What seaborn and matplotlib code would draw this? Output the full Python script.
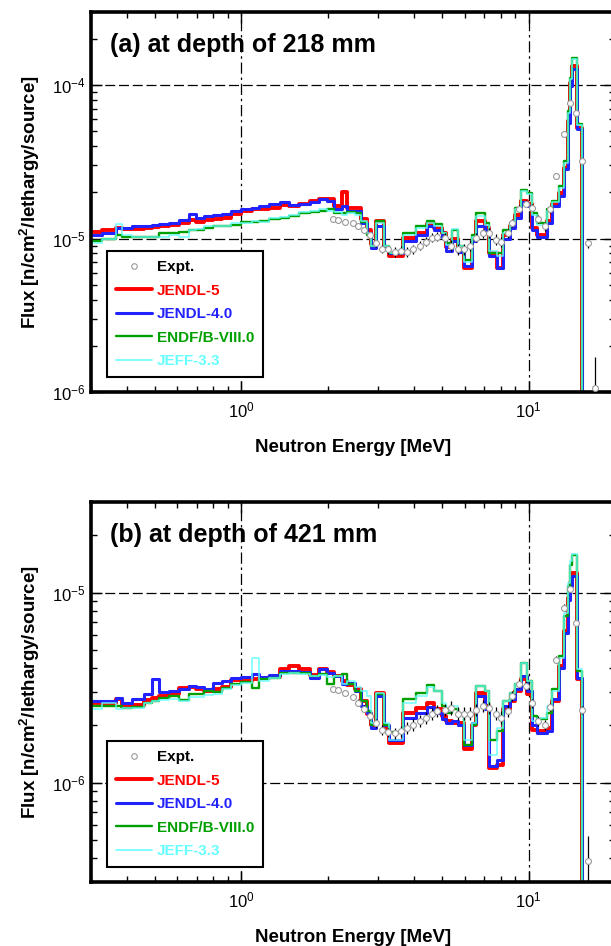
import pandas as pd
import seaborn as sns
import matplotlib
matplotlib.use('Agg')
from matplotlib import pyplot as plt
from matplotlib.lines import Line2D
from matplotlib.ticker import LogLocator, NullFormatter

# group boundaries [MeV], shared by all calculations
edges = [0.29, 0.328, 0.367, 0.385, 0.417, 0.459, 0.490, 0.518, 0.561, 0.608,
         0.659, 0.697, 0.743, 0.799, 0.859, 0.923, 1.00, 1.09, 1.155, 1.25,
         1.36, 1.47, 1.59, 1.73, 1.87, 1.99, 2.11, 2.25, 2.34, 2.48,
         2.62, 2.73, 2.84, 2.95, 3.15, 3.28, 3.67, 4.07, 4.45, 4.70,
         4.98, 5.18, 5.43, 5.70, 5.98, 6.38, 6.59, 7.03, 7.31, 7.74,
         8.18, 8.59, 8.94, 9.45, 9.84, 10.3, 10.7, 11.6, 12.1, 12.8,
         13.3, 13.7, 14.0, 14.2, 14.7, 15.4, 20.0]

# (a) depth 218 mm, flux in 1e-5
a_jendl5 = [1.11, 1.14, 1.18, 1.16, 1.16, 1.17, 1.19, 1.21, 1.23, 1.27,
            1.33, 1.29, 1.33, 1.35, 1.37, 1.45, 1.52, 1.55, 1.57, 1.59,
            1.66, 1.64, 1.69, 1.77, 1.82, 1.82, 1.62, 2.00, 1.59, 1.59,
            1.35, 1.13, 0.92, 1.31, 0.86, 0.775, 1.015, 1.09, 1.25, 1.18,
            1.08, 0.88, 1.00, 0.835, 0.647, 0.97, 1.31, 1.18, 0.80, 0.64,
            1.05, 1.20, 1.43, 1.77, 1.69, 1.18, 1.06, 1.31, 1.69, 1.99,
            2.9, 5.87, 10.4, 13.4, 5.28, 0.001]
a_jendl4 = [1.06, 1.09, 1.18, 1.18, 1.21, 1.21, 1.23, 1.25, 1.27, 1.33,
            1.45, 1.37, 1.41, 1.43, 1.45, 1.52, 1.57, 1.59, 1.62, 1.69,
            1.72, 1.66, 1.69, 1.72, 1.80, 1.77, 1.57, 1.64, 1.52, 1.52,
            1.27, 1.09, 0.87, 1.21, 0.86, 0.80, 0.97, 1.06, 1.20, 1.13,
            1.03, 0.83, 0.96, 0.82, 0.667, 0.97, 1.21, 1.13, 0.775, 0.64,
            1.00, 1.18, 1.37, 1.72, 1.64, 1.13, 1.03, 1.27, 1.62, 1.90,
            2.85, 5.7, 9.9, 12.8, 5.2, 0.001]
a_endf8 = [0.97, 1.00, 1.06, 1.02, 1.02, 1.02, 1.03, 1.08, 1.09, 1.11,
           1.13, 1.14, 1.18, 1.20, 1.21, 1.23, 1.29, 1.29, 1.31, 1.35,
           1.37, 1.41, 1.46, 1.48, 1.52, 1.57, 1.46, 1.46, 1.48, 1.46,
           1.29, 1.05, 0.90, 1.31, 0.89, 0.81, 1.08, 1.20, 1.31, 1.25,
           1.09, 0.94, 1.13, 0.90, 0.72, 1.05, 1.46, 1.27, 0.81, 0.80,
           1.13, 1.27, 1.59, 2.08, 1.99, 1.46, 1.27, 1.57, 1.77, 2.2,
           3.2, 6.8, 11.2, 15.1, 5.6, 0.001]
a_jeff33 = [0.94, 1.00, 1.25, 1.05, 1.03, 1.03, 1.03, 1.03, 1.06, 1.02,
            1.13, 1.16, 1.20, 1.20, 1.21, 1.27, 1.27, 1.31, 1.29, 1.37,
            1.39, 1.43, 1.50, 1.52, 1.55, 1.52, 1.50, 1.43, 1.46, 1.43,
            1.31, 1.08, 0.90, 1.27, 0.89, 0.80, 1.05, 1.18, 1.27, 1.21,
            1.09, 0.91, 1.15, 0.90, 0.70, 1.03, 1.41, 1.23, 0.835, 0.775,
            1.09, 1.25, 1.57, 2.05, 1.95, 1.43, 1.23, 1.52, 1.72, 2.15,
            3.1, 6.6, 11.0, 14.8, 5.5, 0.001]

# (b) depth 421 mm, flux in 1e-6
b_jendl5 = [2.61, 2.61, 2.77, 2.51, 2.55, 2.73, 2.80, 2.87, 2.94, 3.16,
            3.20, 3.12, 3.05, 3.12, 3.20, 3.48, 3.44, 3.53, 3.57, 3.61,
            3.98, 4.13, 3.98, 3.70, 3.98, 3.84, 3.66, 3.44, 3.28, 3.12,
            2.70, 2.31, 2.00, 2.98, 1.95, 1.61, 2.33, 2.48, 2.64, 2.45,
            2.25, 2.12, 2.07, 2.07, 1.51, 2.00, 2.98, 2.54, 1.20, 1.24,
            2.45, 2.70, 3.05, 3.53, 2.94, 1.90, 1.88, 1.93, 2.70, 4.13,
            6.31, 9.4, 11.2, 12.7, 3.53, 0.01]
b_jendl4 = [2.70, 2.70, 2.80, 2.64, 2.77, 2.94, 3.53, 3.01, 3.05, 3.12,
            3.24, 3.20, 3.12, 3.36, 3.44, 3.57, 3.61, 3.75, 3.61, 3.70,
            3.88, 3.88, 3.84, 3.57, 3.98, 3.79, 3.66, 3.32, 3.36, 3.05,
            2.54, 2.33, 1.93, 2.87, 2.00, 1.67, 2.20, 2.33, 2.51, 2.33,
            2.17, 2.07, 2.12, 2.00, 1.57, 2.07, 2.87, 2.45, 1.23, 1.31,
            2.54, 2.77, 3.12, 3.66, 3.05, 2.00, 1.82, 1.88, 2.77, 4.03,
            6.16, 9.1, 10.9, 12.3, 3.57, 0.01]
b_endf8 = [2.54, 2.54, 2.54, 2.48, 2.51, 2.64, 2.70, 2.80, 2.87, 2.73,
           2.94, 2.94, 3.05, 3.01, 3.16, 3.32, 3.40, 3.16, 3.53, 3.57,
           3.79, 3.79, 3.79, 3.66, 3.75, 3.32, 3.66, 3.75, 3.32, 3.05,
           2.70, 2.39, 2.00, 2.94, 2.00, 1.84, 2.77, 2.98, 3.28, 3.05,
           2.54, 2.33, 2.45, 2.31, 1.57, 2.00, 3.24, 3.05, 1.67, 1.88,
           2.70, 2.98, 3.32, 4.28, 3.44, 2.25, 2.17, 2.33, 3.12, 4.66,
           7.57, 10.9, 13.9, 15.7, 3.88, 0.01]
b_jeff33 = [2.45, 2.61, 2.45, 2.48, 2.48, 2.64, 2.70, 2.73, 2.77, 2.70,
            2.84, 2.84, 2.91, 2.94, 3.12, 3.28, 3.36, 4.55, 3.44, 3.57,
            3.75, 3.79, 3.75, 3.66, 3.70, 3.61, 3.66, 3.32, 3.44, 3.20,
            3.05, 2.87, 2.07, 2.98, 2.07, 1.67, 2.61, 2.87, 3.20, 3.05,
            2.64, 2.39, 2.54, 2.31, 1.67, 2.07, 3.24, 3.05, 1.39, 1.93,
            2.70, 2.98, 3.32, 4.28, 3.44, 2.12, 2.20, 2.54, 3.05, 4.55,
            7.85, 11.2, 14.7, 16.0, 3.98, 0.01]

# measured spectra
expt_e = [2.08, 2.18, 2.30, 2.44, 2.54, 2.68, 2.81, 2.95, 3.10, 3.25,
          3.44, 3.61, 3.79, 3.97, 4.20, 4.41, 4.63, 4.82, 5.10, 5.39,
          5.66, 5.94, 6.28, 6.59, 6.92, 7.26, 7.68, 8.05, 8.45, 8.79,
          9.23, 9.77, 10.3, 10.8, 11.4, 11.9, 12.5, 13.3, 13.9, 14.6,
          15.3, 16.1, 17.0]
expt_a = [1.35, 1.33, 1.29, 1.27, 1.21, 1.13, 1.05, 0.93, 0.86, 0.85,
          0.82, 0.835, 0.82, 0.85, 0.90, 0.955, 1.015, 1.03, 1.015, 0.90,
          0.85, 0.85, 0.90, 1.015, 1.08, 1.09, 0.985, 0.955, 1.08, 1.27,
          1.57, 1.69, 1.59, 1.35, 1.20, 1.55, 2.57, 4.83, 7.6, 6.6,
          3.22, 0.93, 0.106]
err_a = [0.03, 0.03, 0.03, 0.03, 0.03, 0.04, 0.04, 0.05, 0.06, 0.06,
         0.07, 0.07, 0.07, 0.07, 0.07, 0.07, 0.07, 0.07, 0.07, 0.08,
         0.08, 0.08, 0.08, 0.07, 0.07, 0.07, 0.08, 0.08, 0.07, 0.06,
         0.05, 0.05, 0.05, 0.06, 0.06, 0.05, 0.04, 0.04, 0.03, 0.03,
         0.04, 0.07, 0.60]
expt_b = [3.12, 3.09, 2.98, 2.84, 2.64, 2.45, 2.25, 2.05, 1.90, 1.84,
          1.82, 1.86, 1.95, 2.02, 2.12, 2.20, 2.31, 2.39, 2.42, 2.48,
          2.31, 2.31, 2.31, 2.42, 2.54, 2.48, 2.31, 2.20, 2.39, 2.87,
          3.32, 3.24, 2.61, 2.12, 2.02, 2.51, 4.44, 8.34, 10.5, 6.95,
          2.42, 0.389]
err_b = [0.03, 0.03, 0.03, 0.03, 0.04, 0.04, 0.05, 0.05, 0.06, 0.06,
         0.07, 0.07, 0.07, 0.07, 0.07, 0.07, 0.07, 0.07, 0.07, 0.08,
         0.08, 0.08, 0.08, 0.07, 0.07, 0.07, 0.08, 0.08, 0.07, 0.06,
         0.05, 0.05, 0.05, 0.06, 0.06, 0.05, 0.04, 0.04, 0.03, 0.03,
         0.05, 0.35]

libs = ['JENDL-5', 'JENDL-4.0', 'ENDF/B-VIII.0', 'JEFF-3.3']
lib_color = {'JENDL-5': '#ff0000', 'JENDL-4.0': '#2222ff',
             'ENDF/B-VIII.0': '#00a000', 'JEFF-3.3': '#66ffff'}
lib_width = {'JENDL-5': 2.8, 'JENDL-4.0': 2.2, 'ENDF/B-VIII.0': 1.7, 'JEFF-3.3': 1.2}

sns.set_theme(style='ticks')
plt.rcParams['font.family'] = ['Liberation Sans', 'DejaVu Sans']
plt.rcParams['mathtext.fontset'] = 'custom'
plt.rcParams['mathtext.rm'] = 'Liberation Sans'
plt.rcParams['mathtext.bf'] = 'Liberation Sans:bold'
plt.rcParams['axes.unicode_minus'] = False
# seaborn greys the text, the original is pure black
plt.rcParams['text.color'] = 'black'
plt.rcParams['axes.labelcolor'] = 'black'
plt.rcParams['xtick.color'] = 'black'
plt.rcParams['ytick.color'] = 'black'

fig = plt.figure(figsize=(6.11, 9.46), dpi=100)
ax_a = fig.add_axes([91 / 611, 554 / 946, 524 / 611, 380 / 946])
ax_b = fig.add_axes([91 / 611, 64 / 946, 524 / 611, 380 / 946])


def draw_panel(ax, calc, scale, e, f, err, ylim, title):
    ax.set_xscale('log')
    ax.set_yscale('log')
    for lib, vals in zip(libs, calc):
        df = pd.DataFrame({'E': edges, 'flux': [v * scale for v in vals] + [vals[-1] * scale]})
        sns.lineplot(data=df, x='E', y='flux', drawstyle='steps-post', estimator=None, sort=False,
                     color=lib_color[lib], lw=lib_width[lib], ax=ax, legend=False,
                     alpha=0.85 if lib == 'JEFF-3.3' else 1.0)
    flux = [v * scale for v in f]
    ax.errorbar(e, flux, yerr=[v * r for v, r in zip(flux, err)], fmt='none',
                ecolor='black', elinewidth=0.9, capsize=0, zorder=4)
    sns.scatterplot(x=e, y=flux, marker='o', s=18, color='white', edgecolor='#999999',
                    linewidth=0.8, ax=ax, zorder=5)

    ax.set_xlim(0.3, 20)
    ax.set_ylim(*ylim)
    ax.xaxis.set_major_locator(LogLocator(base=10, numticks=10))
    ax.xaxis.set_minor_locator(LogLocator(base=10, subs=range(2, 10), numticks=20))
    ax.yaxis.set_major_locator(LogLocator(base=10, numticks=10))
    ax.yaxis.set_minor_locator(LogLocator(base=10, subs=range(2, 10), numticks=20))
    ax.xaxis.set_minor_formatter(NullFormatter())
    ax.yaxis.set_minor_formatter(NullFormatter())
    ax.tick_params(which='both', direction='in', top=True, right=True, colors='black',
                   labelsize=12, pad=4)
    ax.tick_params(axis='x', pad=6)
    ax.tick_params(which='major', length=8, width=1)
    ax.tick_params(which='minor', length=4, width=1)
    ax.xaxis.grid(True, which='major', color='black', lw=0.9, ls=(0, (9, 3, 2, 3)))
    ax.yaxis.grid(True, which='major', color='black', lw=0.9, ls=(0, (8, 3)))
    for s in ax.spines.values():
        s.set_linewidth(2.6)
        s.set_color('black')

    ax.set_xlabel('Neutron Energy [MeV]', fontsize=13.5, fontweight='bold', labelpad=13.5)
    ax.set_ylabel('Flux [n/cm$^\\mathbf{2}$/lethargy/source]', fontsize=13.5, fontweight='bold',
                  labelpad=7)
    ax.text(0.036, 0.913, title, transform=ax.transAxes, fontsize=18, fontweight='bold',
            va='center', ha='left')

    handles = [Line2D([], [], ls='none', marker='o', ms=4, mfc='white', mec='#999999', mew=0.8)]
    for lib in libs:
        handles.append(Line2D([], [], color=lib_color[lib], lw=lib_width[lib]))
    leg = ax.legend(handles, ['Expt.'] + libs, loc='lower left', bbox_to_anchor=(0.031, 0.039),
                    frameon=True, fancybox=False, framealpha=1, edgecolor='black',
                    prop={'weight': 'bold', 'size': 11}, handlelength=2.3, labelspacing=0.62,
                    borderpad=0.6, handletextpad=0.35, borderaxespad=0,
                    labelcolor=['black'] + [lib_color[lib] for lib in libs])
    leg.get_frame().set_linewidth(1.5)


draw_panel(ax_a, [a_jendl5, a_jendl4, a_endf8, a_jeff33], 1e-5, expt_e, expt_a, err_a,
           (1e-6, 3e-4), '(a) at depth of 218 mm')
draw_panel(ax_b, [b_jendl5, b_jendl4, b_endf8, b_jeff33], 1e-6, expt_e[:len(expt_b)], expt_b, err_b,
           (3e-7, 3e-5), '(b) at depth of 421 mm')

fig.savefig('out.png', dpi=100)
